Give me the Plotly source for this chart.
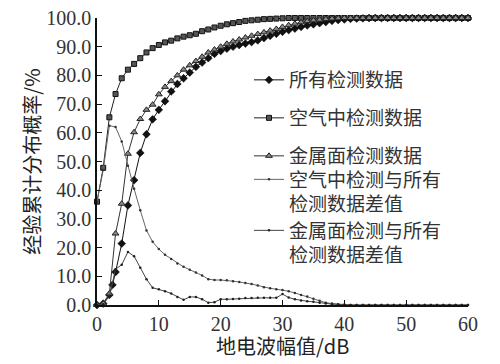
import plotly.graph_objects as go

# ---- data ----
x_all = [0, 1, 2, 2.5, 3, 4, 5, 6, 7, 8, 9, 10, 11, 12, 13, 14, 15, 16, 17, 18, 19, 20,
         21, 22, 23, 24, 25, 26, 27, 28, 29, 30, 31, 32, 33, 34, 35, 36, 37, 38, 39, 40,
         41, 42, 43, 44, 45, 46, 47, 48, 49, 50, 51, 52, 53, 54, 55, 56, 57, 58, 59, 60]
y_all = [0, 0.5, 3.5, 7, 11.5, 21.4, 34.7, 43.5, 53, 59.5, 64.7, 68, 71, 74.4, 77, 79, 81, 83, 84.5, 86, 87.5, 88.5,
         89.3, 90, 90.6, 91.1, 91.6, 92.2, 93, 93.8, 94.5, 95.2, 95.8, 96.3, 96.9, 97.4, 97.8, 98.2, 98.6, 99, 99.3, 99.5,
         99.7, 99.8, 99.9, 100, 100, 100, 100, 100, 100, 100, 100, 100, 100, 100, 100, 100, 100, 100, 100, 100]

x_db = list(range(0, 61))
y_air = [36, 47.8, 65.4, 73.5, 79, 82, 84, 86, 88, 89.5, 90.6, 91.5, 92.1, 92.9, 93.5, 94, 94.5, 95.4, 96, 96.7, 97.3,
         97.8, 98.2, 98.6, 99, 99.2, 99.4, 99.6, 99.7, 99.8, 99.9, 100, 100, 100, 100, 100, 100, 100, 100, 100, 100,
         100, 100, 100, 100, 100, 100, 100, 100, 100, 100, 100, 100, 100, 100, 100, 100, 100, 100, 100, 100]
y_metal = [0, 0.5, 4, 24.9, 35.3, 52.7, 60.2, 64.8, 68, 69.8, 73.4, 76, 78, 80, 82, 83.5, 85, 86.5, 88, 89, 90,
           91, 91.8, 92.5, 93.2, 93.8, 94.4, 95, 95.6, 96.2, 96.9, 97.5, 98, 98.5, 98.9, 99.2, 99.4, 99.6, 99.8, 99.9, 100,
           100, 100, 100, 100, 100, 100, 100, 100, 100, 100, 100, 100, 100, 100, 100, 100, 100, 100, 100, 100]
y_diff_air = [36, 47, 62.5, 62, 57, 48.5, 40.5, 33, 26, 22, 19.5, 17.5, 16, 14.5, 13.3, 12.3, 11.3, 10.3, 9, 8.7, 8.7,
              8.6, 8.3, 8, 7.7, 7.3, 6.8, 6.2, 5.8, 5.5, 5.2, 4.8, 4.2, 3.5, 3, 2.2, 1.5, 0.8, 0.5, 0.3, 0.2,
              0, 0, 0, 0, 0, 0, 0, 0, 0, 0, 0, 0, 0, 0, 0, 0, 0, 0, 0, 0]
y_diff_metal = [0, 0.3, 3, 12.5, 14, 18.5, 17, 13, 9, 6, 5.5, 4.8, 4, 2.8, 1.8, 2.8, 2.8, 2, 0.8, 1, 2,
                2, 2.1, 2.2, 2.4, 2.4, 2.5, 2.5, 2.5, 2.5, 3.8, 2.6, 2, 1.6, 1.3, 1.1, 0.8, 0.5, 0.3, 0.2, 0,
                0, 0, 0, 0, 0, 0, 0, 0, 0, 0, 0, 0, 0, 0, 0, 0, 0, 0, 0, 0]

names = ["所有检测数据", "空气中检测数据", "金属面检测数据",
         "空气中检测与所有<br>检测数据差值", "金属面检测与所有<br>检测数据差值"]
x_ticks = [0, 10, 20, 30, 40, 50, 60]
y_ticks = [0, 10, 20, 30, 40, 50, 60, 70, 80, 90, 100]

fig = go.Figure()
fig.add_trace(go.Scatter(x=x_all, y=y_all, name=names[0], mode="lines+markers", legend="legend",
                         line=dict(color="#111", width=1),
                         marker=dict(symbol="diamond", size=6, color="#111", line=dict(color="#000", width=0.5)),
                         cliponaxis=False))
fig.add_trace(go.Scatter(x=x_db, y=y_air, name=names[1], mode="lines+markers", legend="legend2",
                         line=dict(color="#222", width=1),
                         marker=dict(symbol="square", size=5, color="#555", line=dict(color="#111", width=1)),
                         cliponaxis=False))
fig.add_trace(go.Scatter(x=x_db, y=y_metal, name=names[2], mode="lines+markers", legend="legend3",
                         line=dict(color="#333", width=1),
                         marker=dict(symbol="triangle-up", size=6, color="#888", line=dict(color="#222", width=1)),
                         cliponaxis=False))
fig.add_trace(go.Scatter(x=x_db, y=y_diff_air, name=names[3], mode="lines+markers", legend="legend4",
                         line=dict(color="#666", width=1),
                         marker=dict(symbol="circle", size=2.5, color="#333"),
                         cliponaxis=False))
fig.add_trace(go.Scatter(x=x_db, y=y_diff_metal, name=names[4], mode="lines+markers", legend="legend5",
                         line=dict(color="#444", width=1),
                         marker=dict(symbol="circle", size=2.5, color="#222"),
                         cliponaxis=False))

cjk = "Noto Sans CJK SC"
serif = "Liberation Serif"
leg_font = dict(family=cjk, size=19, color="#333")
H = 287.0
lx = (241 - 89) / 371.0
def leg(ypx):
    return dict(x=lx, xanchor="left", y=(305 - ypx) / H, yanchor="middle", font=leg_font,
                bgcolor="rgba(0,0,0,0)", borderwidth=0, valign="top", itemwidth=30)

fig.update_layout(
    width=492, height=356,
    margin=dict(l=89, r=32, t=10, b=59, autoexpand=False),
    paper_bgcolor="white", plot_bgcolor="white",
    showlegend=True,
    legend=leg(80), legend2=leg(118), legend3=leg(156), legend4=leg(192), legend5=leg(243),
    font=dict(family=serif, color="#222"),
    annotations=[dict(text="地电波幅值/dB", xref="paper", yref="paper", x=0.5, y=(305 - 345) / H,
                      xanchor="center", yanchor="middle", showarrow=False,
                      font=dict(family=cjk, size=20, color="#222"))],
)
fig.update_xaxes(range=[0, 60], tickvals=x_ticks, ticktext=[str(v) for v in x_ticks],
                 showline=True, linecolor="#111", linewidth=1.5, ticks="inside", ticklen=5,
                 tickcolor="#111", showgrid=False, zeroline=False, automargin=False,
                 ticklabeloverflow="allow",
                 tickfont=dict(family=serif, size=20, color="#333"))
fig.update_yaxes(range=[0, 100], tickvals=y_ticks, ticktext=[f"{v:.1f}" for v in y_ticks],
                 showline=True, linecolor="#111", linewidth=1.5, ticks="inside", ticklen=5,
                 tickcolor="#111", showgrid=False, zeroline=False, automargin=False,
                 ticklabeloverflow="allow",
                 tickfont=dict(family=serif, size=20, color="#333"),
                 title=dict(text="经验累计分布概率/%", font=dict(family=cjk, size=20, color="#222"), standoff=0))

fig.write_html("out.html")
